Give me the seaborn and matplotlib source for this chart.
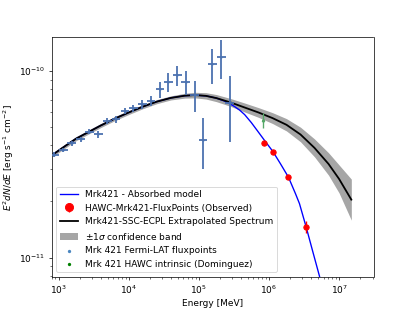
#Mrk421 SED - Fermi-LAT + HAWC with SSC-ECPL extrapolation

#Import Necessary Libraries
import numpy as np
import pandas as pd
import seaborn as sns
from matplotlib import pyplot as plt

#Data Creation - Fermi-LAT flux points
fermi_e = [863, 1170, 1540, 2070, 2740, 3680, 4940, 6580, 8830, 11600, 15600, 20700,
           27800, 36500, 49000, 65200, 87500, 115000, 156000, 209000, 275000]
fermi_f = [3.56e-11, 3.77e-11, 4.10e-11, 4.31e-11, 4.73e-11, 4.60e-11, 5.42e-11, 5.51e-11,
           6.12e-11, 6.31e-11, 6.64e-11, 6.92e-11, 7.98e-11, 8.73e-11, 9.48e-11, 8.73e-11,
           7.41e-11, 4.27e-11, 1.086e-10, 1.19e-10, 6.75e-11]
fermi_ferr = [1.0e-12, 1.1e-12, 1.2e-12, 1.3e-12, 1.5e-12, 2.0e-12, 2.0e-12, 2.2e-12,
              2.5e-12, 3.0e-12, 3.5e-12, 4.0e-12, 8.0e-12, 1.0e-11, 1.2e-11, 1.25e-11,
              1.4e-11, 1.3e-11, 2.3e-11, 2.8e-11, 2.6e-11]

#HAWC observed flux points
hawc_e = [8.45e5, 1.15e6, 1.88e6, 3.40e6]
hawc_f = [4.13e-11, 3.70e-11, 2.70e-11, 1.46e-11]
hawc_ferr = [6e-13, 6e-13, 6e-13, 1.1e-12]

#HAWC intrinsic (Dominguez EBL)
intr_e = [8.3e5]
intr_f = [5.45e-11]
intr_ferr = [0.5e-11]

#SSC-ECPL extrapolated spectrum
model_e = [832, 1259, 1778, 2818, 3981, 6310, 10000, 15850, 25120, 39810, 63100, 89130,
           125900, 177800, 281800, 446700, 707900, 1.122e6, 1.778e6, 2.818e6, 4.467e6,
           7.079e6, 1.0e7, 1.496e7]
model_f = [3.573e-11, 3.981e-11, 4.345e-11, 4.764e-11, 5.105e-11, 5.559e-11, 5.998e-11,
           6.442e-11, 6.855e-11, 7.178e-11, 7.379e-11, 7.430e-11, 7.362e-11, 7.161e-11,
           6.792e-11, 6.383e-11, 5.998e-11, 5.598e-11, 5.152e-11, 4.571e-11, 3.873e-11,
           3.177e-11, 2.642e-11, 2.046e-11]
#1 sigma band half width in dex
band_dex = [0.011, 0.011, 0.011, 0.011, 0.011, 0.011, 0.011, 0.011, 0.011, 0.011, 0.013,
            0.015, 0.017, 0.019, 0.021, 0.024, 0.026, 0.029, 0.033, 0.039, 0.048, 0.060,
            0.075, 0.110]

#EBL absorbed model
abs_e = [832, 1259, 1778, 2818, 3981, 6310, 10000, 15850, 25120, 39810, 63100, 89130,
         125900, 177800, 233600, 275100, 324100, 381700, 449700, 560000, 688400, 865800,
         1.136e6, 1.462e6, 1.900e6, 2.390e6, 2.724e6, 3.394e6, 4.212e6, 5.246e6, 6.384e6]
abs_f = [3.573e-11, 3.981e-11, 4.345e-11, 4.764e-11, 5.105e-11, 5.559e-11, 5.998e-11,
         6.442e-11, 6.855e-11, 7.178e-11, 7.379e-11, 7.430e-11, 7.362e-11, 7.161e-11,
         6.896e-11, 6.688e-11, 6.446e-11, 6.174e-11, 5.842e-11, 5.295e-11, 4.771e-11,
         4.245e-11, 3.709e-11, 3.181e-11, 2.696e-11, 2.202e-11, 1.948e-11, 1.459e-11,
         1.080e-11, 7.98e-12, 5.85e-12]

#Creating DataFrames
fermi = pd.DataFrame({'E': fermi_e, 'F': fermi_f, 'err': fermi_ferr})
model = pd.DataFrame({'E': model_e, 'F': model_f, 'dex': band_dex})
model['lo'] = model.F / 10 ** model.dex
model['hi'] = model.F * 10 ** model.dex
absorbed = pd.DataFrame({'E': abs_e, 'F': abs_f})

#Fermi bin half widths (8 bins per decade)
half = 10 ** (1 / 16)
fermi_xerr = [fermi.E - fermi.E / half, fermi.E * half - fermi.E]

#Visualization
fig = plt.figure(figsize=(6.4, 4.8), dpi=415 / 6.4)
ax = fig.add_subplot(111)
ax.set_xscale('log')
ax.set_yscale('log')

ax.fill_between(model.E, model.lo, model.hi, color='gray', alpha=0.7, lw=0,
                zorder=1, label=r'$\pm1\sigma$ confidence band')
sns.lineplot(x='E', y='F', data=absorbed, color='blue', lw=1.5, sort=False,
             estimator=None, ax=ax, zorder=2, label='Mrk421 - Absorbed model')
sns.lineplot(x='E', y='F', data=model, color='black', lw=2, sort=False,
             estimator=None, ax=ax, zorder=3, label='Mrk421-SSC-ECPL Extrapolated Spectrum')

ax.errorbar(hawc_e, hawc_f, yerr=hawc_ferr, fmt='o', color='red', ms=6,
            zorder=4, label='HAWC-Mrk421-FluxPoints (Observed)')
ax.errorbar(intr_e, intr_f, yerr=intr_ferr, fmt='^', color='#55A868', ms=3, lw=1.5, zorder=5)
sns.scatterplot(x=fermi_e, y=fermi_f, color='#4a86c0', s=6, ax=ax, zorder=4,
                linewidth=0, label='Mrk 421 Fermi-LAT fluxpoints')
sns.scatterplot(x=intr_e, y=intr_f, color='green', s=6, ax=ax, zorder=4,
                linewidth=0, label='Mrk 421 HAWC intrinsic (Dominguez)')
ax.errorbar(fermi.E, fermi.F, xerr=fermi_xerr, yerr=fermi.err, fmt='none',
            ecolor='#4C72B0', elinewidth=2, zorder=5)

ax.set_xlim(800, 3.1e7)
ax.set_ylim(7.9e-12, 1.52e-10)
ax.set_xlabel('Energy [MeV]')
ax.set_ylabel(r'$E^2 dN/dE$ [erg s$^{-1}$ cm$^{-2}$]')

#Legend in the original order
handles, labels = ax.get_legend_handles_labels()
order = ['Mrk421 - Absorbed model', 'HAWC-Mrk421-FluxPoints (Observed)',
         'Mrk421-SSC-ECPL Extrapolated Spectrum', r'$\pm1\sigma$ confidence band',
         'Mrk 421 Fermi-LAT fluxpoints', 'Mrk 421 HAWC intrinsic (Dominguez)']
lookup = dict(zip(labels, handles))
ax.legend([lookup[k] for k in order], order, loc='lower left', markerscale=1.5)

#Save Plot
plt.savefig('out.png', dpi=415 / 6.4)
